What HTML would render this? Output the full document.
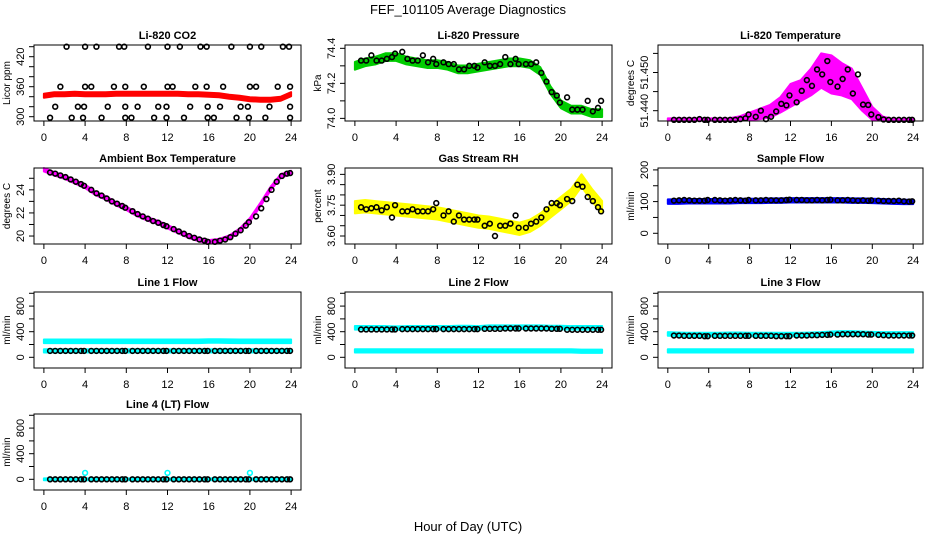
<!DOCTYPE html>
<html><head><meta charset="utf-8"><title>FEF_101105 Average Diagnostics</title>
<style>
html,body{margin:0;padding:0;background:#fff;}
svg{display:block;font-family:"Liberation Sans",Arial,sans-serif;}
</style></head>
<body>
<svg id="chart" width="936" height="540" viewBox="0 0 936 540" xmlns="http://www.w3.org/2000/svg">
<text x="468" y="14" font-size="13" text-anchor="middle">FEF_101105  Average Diagnostics</text>
<text x="468" y="531" font-size="13" text-anchor="middle">Hour of Day (UTC)</text>
</svg>
<script>
// ---------- data ----------
const xTicks = [0,4,8,12,16,20,24];
const bandHours = [0,1,2,3,4,5,6,7,8,9,10,11,12,13,14,15,16,17,18,19,20,21,22,23,24];
const blackHours = [0.6,1.1,1.6,2.1,2.6,3.1,3.6,3.9,4.6,5.1,5.6,6.1,6.6,7.1,7.6,7.9,8.6,9.1,9.6,10.1,10.6,11.1,11.6,11.9,12.6,13.1,13.6,14.1,14.6,15.1,15.6,15.9,16.6,17.1,17.6,18.1,18.6,19.1,19.6,19.9,20.6,21.1,21.6,22.1,22.6,23.1,23.6,23.9];

// Li-820 CO2
const co2Band = [342,345,345,346,345,345,345,346,346,346,346,346,346,346,345,345,344,343,340,338,335,334,334,336,345];
const co2BlackHours = [2.2,4,5.1,7.3,7.8,10.1,12,13.2,15.2,15.8,18.2,20,21.1,23.2,23.8, 1.6,4,4.6,6.8,7.9,9.7,12,12.5,14.7,15.8,17.4,20,20.6,22.7,23.9, 1.1,3.3,3.9,6.2,7.9,9.1,11.1,11.9,14.2,15.9,17.1,19.1,19.8,21.9,23.9, 0.6,2.7,3.8,5.6,7.9,8.5,10.7,11.9,13.6,15.9,16.5,18.7,19.9,21.5,23.9];
const co2BlackVals = [440,440,440,440,440,440,440,440,440,440,440,440,440,440,440, 360,360,360,360,360,360,360,360,360,360,360,360,360,360,360, 320,320,320,320,320,320,320,320,320,320,320,320,320,320,320, 298,298,298,298,298,298,298,298,298,298,298,298,298,298,298];
// Li-820 Pressure
const presBand = [74.30,74.32,74.33,74.35,74.35,74.33,74.32,74.31,74.31,74.30,74.28,74.28,74.29,74.30,74.31,74.32,74.32,74.31,74.27,74.16,74.08,74.05,74.05,74.03,74.03];
const presBlack = [74.33,74.33,74.36,74.33,74.33,74.34,74.35,74.37,74.38,74.34,74.33,74.33,74.36,74.32,74.34,74.31,74.32,74.31,74.31,74.28,74.28,74.30,74.30,74.29,74.32,74.30,74.30,74.31,74.35,74.31,74.34,74.31,74.31,74.31,74.32,74.26,74.21,74.15,74.13,74.09,74.12,74.05,74.05,74.05,74.10,74.04,74.06,74.10];
// Li-820 Temperature
const tempLo = [51.4374,51.4374,51.4374,51.4374,51.4374,51.4374,51.4374,51.4374,51.4376,51.4378,51.4382,51.4395,51.4410,51.4425,51.4440,51.4460,51.4445,51.4440,51.4430,51.4400,51.4376,51.4374,51.4374,51.4374,51.4374];
const tempHi = [51.4380,51.4380,51.4380,51.4380,51.4380,51.4380,51.4380,51.4385,51.4395,51.4405,51.4415,51.4435,51.4470,51.4480,51.4510,51.4550,51.4545,51.4525,51.4510,51.4460,51.4410,51.4385,51.4378,51.4378,51.4378];
const tempBlack = [51.4376,51.4376,51.4376,51.4376,51.4376,51.4378,51.4376,51.4376,51.4376,51.4376,51.4376,51.4376,51.4376,51.4378,51.4380,51.4390,51.4384,51.4400,51.4378,51.4384,51.4398,51.4418,51.4414,51.4440,51.4422,51.4452,51.4480,51.4465,51.4508,51.4495,51.4530,51.4475,51.4463,51.4483,51.4508,51.4445,51.4495,51.4416,51.4415,51.4390,51.4383,51.4377,51.4376,51.4376,51.4376,51.4376,51.4376,51.4376];
// Ambient Box Temperature
const ambBand = [25.74,25.4,25.1,24.7,24.3,23.7,23.3,22.8,22.4,21.9,21.5,21.2,20.8,20.4,20.0,19.7,19.5,19.6,19.9,20.5,21.4,22.7,24.1,25.2,25.5];
const ambBlack = [25.5,25.4,25.25,25.1,24.9,24.7,24.5,24.35,24.0,23.7,23.5,23.25,23.0,22.8,22.6,22.45,22.15,21.9,21.7,21.5,21.3,21.15,20.95,20.85,20.6,20.4,20.2,20.0,19.85,19.7,19.6,19.5,19.5,19.6,19.7,19.9,20.2,20.5,20.9,21.2,21.7,22.4,23.2,24.0,24.7,25.2,25.4,25.45];
// Gas Stream RH
const rhBand = [3.74,3.745,3.74,3.735,3.73,3.725,3.72,3.715,3.71,3.70,3.69,3.68,3.67,3.665,3.655,3.645,3.635,3.65,3.68,3.72,3.76,3.80,3.87,3.80,3.74];
const rhBlack = [3.74,3.73,3.735,3.74,3.725,3.74,3.69,3.75,3.72,3.72,3.73,3.72,3.72,3.72,3.73,3.76,3.70,3.72,3.67,3.70,3.68,3.68,3.68,3.68,3.65,3.66,3.60,3.65,3.65,3.66,3.70,3.64,3.64,3.66,3.67,3.69,3.73,3.76,3.76,3.75,3.78,3.77,3.85,3.84,3.79,3.77,3.74,3.72];
// Sample Flow
const sampBand = [100,100,101,101,101,101,101,102,102,102,103,103,104,104,104,104,104,104,103,103,102,101,100,99,99];
const sampBlack = [103,104,105,104,103,103,103,105,105,104,103,104,105,104,103,105,104,104,105,104,104,104,105,106,105,105,104,104,105,104,105,106,104,104,105,104,103,104,103,104,103,102,102,102,103,101,100,101];
// Line flows
const line1High = [250,250,250,250,250,250,250,250,250,250,250,250,250,250,250,250,255,255,252,250,250,250,250,250,250];
const line1Low  = [100,100,100,100,100,100,100,100,100,100,100,100,100,100,100,100,100,100,100,100,100,100,100,100,100];
const line1Black = [100,100,100,100,100,100,100,100,100,100,100,100,100,100,100,100,100,100,100,100,100,100,100,100,100,100,100,100,100,100,100,100,100,100,100,100,100,100,100,100,100,100,100,100,100,100,100,100];
const line2High = [460,460,460,460,455,460,460,460,460,460,465,465,460,470,470,470,470,470,470,465,465,460,460,460,460];
const line2Low  = [100,100,100,100,100,100,100,100,100,100,100,100,100,100,100,100,100,100,100,100,100,100,95,95,95];
const line2Black = [435,435,435,435,435,435,435,435,440,440,440,440,440,440,440,440,440,440,440,440,440,440,440,440,445,445,445,445,450,450,450,450,450,450,450,450,450,445,445,445,430,430,430,430,430,430,430,430];
const line3High = [365,360,355,355,355,355,360,360,355,355,355,355,355,355,360,365,375,380,380,375,370,365,365,365,365];
const line3Low  = [100,100,100,100,100,100,100,100,100,100,100,100,100,100,100,100,100,100,100,100,100,100,100,100,100];
const line3Black = [340,340,335,335,335,335,330,330,335,335,335,335,335,335,335,335,335,335,335,335,330,330,330,330,340,340,340,345,345,350,350,355,355,360,360,360,360,360,355,355,350,345,340,340,340,340,340,340];
const line4Band = [0,0,0,0,0,0,0,0,0,0,0,0,0,0,0,0,0,0,0,0,0,0,0,0,0];
const line4OutHours = [4,12,20];
const line4OutVals = [100,100,100];
const line4Black = [0,0,0,0,0,0,0,0,0,0,0,0,0,0,0,0,0,0,0,0,0,0,0,0,0,0,0,0,0,0,0,0,0,0,0,0,0,0,0,0,0,0,0,0,0,0,0,0];

// ---------- rendering ----------
const NS = 'http://www.w3.org/2000/svg';
const svg = document.getElementById('chart');
function mk(tag, attrs, parent){
  const e = document.createElementNS(NS, tag);
  for (const k in attrs) e.setAttribute(k, attrs[k]);
  (parent||svg).appendChild(e);
  return e;
}
const cols = [[34,301],[345,612],[658,923]];
const rows = [[45,121],[168,244],[292,368],[414,490]];

function panel(cfg){
  const [x0,x1] = cols[cfg.col], [y0,y1] = rows[cfg.row];
  const w = x1-x0, pad = w*0.04/1.08;
  const sx = v => x0 + pad + (v/24)*(w-2*pad);
  const sy = v => y1 - (v-cfg.ylim[0])/(cfg.ylim[1]-cfg.ylim[0])*(y1-y0);
  const g = mk('g', {});
  
  
  const t = mk('text', {x:(x0+x1)/2, y:y0-6, 'font-size':11, 'font-weight':'bold', 'text-anchor':'middle'}, g);
  
  
  t.textContent = cfg.title;
  const yl = mk('text', {x:x0-24, y:(y0+y1)/2, 'font-size':10, 'text-anchor':'middle', transform:`rotate(-90 ${x0-24} ${(y0+y1)/2})`}, g);
  
  
  yl.textContent = cfg.ylab;
  xTicks.forEach(v=>{
    const l = mk('line', {x1:sx(v), x2:sx(v), y1:y1, y2:y1+5, stroke:'#000'}, g);
    
    
    const tx = mk('text', {x:sx(v), y:y1+20, 'font-size':11, 'text-anchor':'middle'}, g);
    
    
    tx.textContent = v;
  });
  cfg.yTicks.forEach(v=>{
    const l = mk('line', {x1:x0-5, x2:x0, y1:sy(v), y2:sy(v), stroke:'#000'}, g);
    
    
  });
  cfg.yLabels.forEach(v=>{
    const tx = mk('text', {x:x0-10, y:sy(v), 'font-size':11, 'text-anchor':'middle', transform:`rotate(-90 ${x0-10} ${sy(v)})`}, g);
    
    
    tx.textContent = cfg.fmt ? cfg.fmt(v) : v;
  });
  cfg.bands.forEach(b=>{
    const lo = b.lo || b.c.map(v=>v-b.s), hi = b.hi || b.c.map(v=>v+b.s);
    const hrs = b.hours || bandHours;
    const pts = hrs.map((h,i)=>sx(h)+','+sy(hi[i])).concat(hrs.map((h,i)=>sx(h)+','+sy(lo[i])).reverse());
    const p = mk('polygon', {points:pts.join(' '), fill:b.color, stroke:b.color, 'stroke-width':2, 'stroke-linejoin':'round'}, g);
    
    
  });
  (cfg.points||[]).forEach(s=>{
    s.h.forEach((h,i)=>{
      const c = mk('circle', {cx:sx(h), cy:sy(s.v[i]), r:2.4, fill:'none', stroke:s.color, 'stroke-width':1.6}, g);
      
      
    });
  });
  const r = mk('rect', {x:x0, y:y0, width:w, height:y1-y0, fill:'none', stroke:'#000'}, g);
  
  
}

panel({name:'panel-co2', title:'Li-820 CO2', ylab:'Licor ppm', col:0, row:0, ylim:[291.4,443.4],
  yTicks:[300,320,340,360,380,400,420,440], yLabels:[300,360,420],
  bands:[{c:co2Band, s:4, color:'#ff0000'}],
  points:[{h:co2BlackHours, v:co2BlackVals, color:'#000'}]});
panel({name:'panel-pressure', title:'Li-820 Pressure', ylab:'kPa', col:1, row:0, ylim:[73.985,74.419],
  yTicks:[74.0,74.1,74.2,74.3,74.4], yLabels:[74.0,74.2,74.4], fmt:v=>v.toFixed(1),
  bands:[{c:presBand, s:0.022, color:'#00cc00'}],
  points:[{h:blackHours, v:presBlack, color:'#000'}]});
panel({name:'panel-temperature', title:'Li-820 Temperature', ylab:'degrees C', col:2, row:0, ylim:[51.4373,51.4572],
  yTicks:[51.440,51.445,51.450,51.455], yLabels:[51.440,51.450], fmt:v=>v.toFixed(3),
  bands:[{lo:tempLo, hi:tempHi, color:'#ff00ff'}],
  points:[{h:blackHours, v:tempBlack, color:'#000'}]});
panel({name:'panel-ambient', title:'Ambient Box Temperature', ylab:'degrees C', col:0, row:1, ylim:[19.31,25.89],
  yTicks:[20,21,22,23,24,25], yLabels:[20,22,24],
  bands:[{c:ambBand, s:0.15, color:'#ff00ff'}],
  points:[{h:blackHours, v:ambBlack, color:'#000'}]});
panel({name:'panel-rh', title:'Gas Stream RH', ylab:'percent', col:1, row:1, ylim:[3.561,3.931],
  yTicks:[3.60,3.65,3.70,3.75,3.80,3.85,3.90], yLabels:[3.60,3.75,3.90], fmt:v=>v.toFixed(2),
  bands:[{c:rhBand, s:0.03, color:'#ffff00'}],
  points:[{h:blackHours, v:rhBlack, color:'#000'}]});
panel({name:'panel-sample-flow', title:'Sample Flow', ylab:'ml/min', col:2, row:1, ylim:[-33.8,206],
  yTicks:[0,50,100,150,200], yLabels:[0,100,200],
  bands:[{c:sampBand, s:7, color:'#0000ff'}],
  points:[{h:blackHours, v:sampBlack, color:'#000'}]});
panel({name:'panel-line1', title:'Line 1 Flow', ylab:'ml/min', col:0, row:2, ylim:[-167,1020],
  yTicks:[0,200,400,600,800,1000], yLabels:[0,400,800],
  bands:[{c:line1High, s:28, color:'#00ffff'},{c:line1Low, s:25, color:'#00ffff'}],
  points:[{h:blackHours, v:line1Black, color:'#000'}]});
panel({name:'panel-line2', title:'Line 2 Flow', ylab:'ml/min', col:1, row:2, ylim:[-167,1020],
  yTicks:[0,200,400,600,800,1000], yLabels:[0,400,800],
  bands:[{c:line2High, s:28, color:'#00ffff'},{c:line2Low, s:25, color:'#00ffff'}],
  points:[{h:blackHours, v:line2Black, color:'#000'}]});
panel({name:'panel-line3', title:'Line 3 Flow', ylab:'ml/min', col:2, row:2, ylim:[-167,1020],
  yTicks:[0,200,400,600,800,1000], yLabels:[0,400,800],
  bands:[{c:line3High, s:28, color:'#00ffff'},{c:line3Low, s:25, color:'#00ffff'}],
  points:[{h:blackHours, v:line3Black, color:'#000'}]});
panel({name:'panel-line4', title:'Line 4 (LT) Flow', ylab:'ml/min', col:0, row:3, ylim:[-167,1020],
  yTicks:[0,200,400,600,800,1000], yLabels:[0,400,800],
  bands:[{c:line4Band, s:15, color:'#00ffff'}],
  points:[{h:line4OutHours, v:line4OutVals, color:'#00ffff'},{h:blackHours, v:line4Black, color:'#000'}]});
</script>
</body></html>
